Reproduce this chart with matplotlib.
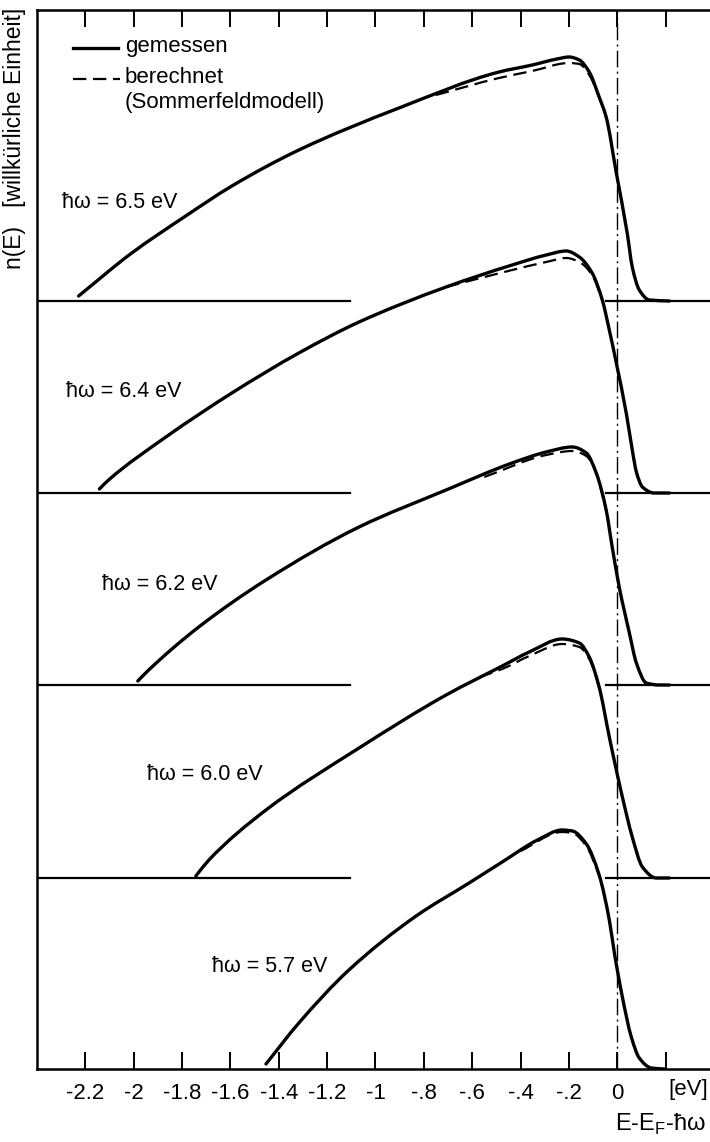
import numpy as np
import matplotlib
matplotlib.use("Agg")
import matplotlib.pyplot as plt
from matplotlib.path import Path
from matplotlib.patches import PathPatch

plt.rcParams['font.family'] = ['Liberation Sans', 'DejaVu Sans']
plt.rcParams['mathtext.fontset'] = 'custom'
plt.rcParams['mathtext.rm'] = 'Liberation Sans'

# photon energies and baseline offsets (arbitrary units)
photon = ['6.5', '6.4', '6.2', '6.0', '5.7']
baseline = [7.68, 5.76, 3.84, 1.91, 0.0]

# measured curves: energy E-EF-hw [eV], n(E) above own baseline
e65 = [-2.228, -2.008, -1.785, -1.594, -1.317, -0.903, -0.489, -0.352, -0.25, -0.199, -0.157, -0.116, -0.075, -0.046, -0.004, 0.041, 0.062, 0.091, 0.133, 0.215]
n65 = [0.05, 0.48, 0.85, 1.15, 1.51, 1.93, 2.29, 2.36, 2.42, 2.44, 2.41, 2.29, 2.04, 1.84, 1.28, 0.68, 0.34, 0.11, 0.01, 0.0]
e64 = [-2.142, -2.104, -1.867, -1.594, -1.317, -1.068, -0.708, -0.435, -0.294, -0.211, -0.157, -0.104, -0.062, -0.033, -0.004, 0.037, 0.062, 0.079, 0.104, 0.153, 0.215]
n64 = [0.04, 0.13, 0.56, 1.00, 1.40, 1.71, 2.06, 2.28, 2.38, 2.42, 2.36, 2.20, 1.93, 1.63, 1.30, 0.80, 0.43, 0.21, 0.06, 0.0, 0.0]
e62 = [-1.983, -1.938, -1.731, -1.453, -1.068, -0.708, -0.435, -0.294, -0.186, -0.128, -0.087, -0.046, -0.021, 0.008, 0.050, 0.079, 0.120, 0.174, 0.215]
n62 = [0.04, 0.15, 0.58, 1.05, 1.58, 1.95, 2.22, 2.33, 2.38, 2.32, 2.12, 1.75, 1.38, 0.98, 0.52, 0.22, 0.02, 0.0, 0.0]
e60 = [-1.743, -1.689, -1.453, -1.068, -0.708, -0.476, -0.364, -0.228, -0.157, -0.116, -0.075, -0.033, -0.004, 0.021, 0.062, 0.104, 0.161, 0.215]
n60 = [0.02, 0.18, 0.68, 1.30, 1.83, 2.12, 2.26, 2.39, 2.35, 2.21, 1.91, 1.41, 1.08, 0.81, 0.41, 0.11, 0.0, 0.0]
e57 = [-1.453, -1.317, -1.110, -0.832, -0.613, -0.476, -0.330, -0.228, -0.186, -0.128, -0.075, -0.033, -0.012, 0.021, 0.058, 0.091, 0.141, 0.195]
n57 = [0.05, 0.46, 0.99, 1.53, 1.86, 2.07, 2.29, 2.39, 2.38, 2.25, 1.94, 1.49, 1.16, 0.72, 0.32, 0.11, 0.01, 0.0]

# calculated (Sommerfeld model), only where it departs from the measurement
c65_e = [-0.75, -0.489, -0.352, -0.199, -0.157, -0.116, -0.075, -0.046]
c65_n = [2.06, 2.23, 2.30, 2.38, 2.37, 2.26, 2.04, 1.84]
c64_e = [-0.708, -0.435, -0.294, -0.211, -0.157, -0.104, -0.062]
c64_n = [2.06, 2.23, 2.31, 2.35, 2.31, 2.18, 1.93]
c62_e = [-0.55, -0.294, -0.186, -0.128, -0.087, -0.046]
c62_n = [2.08, 2.30, 2.34, 2.29, 2.12, 1.75]
c60_e = [-0.57, -0.476, -0.364, -0.228, -0.157, -0.116, -0.075]
c60_n = [2.01, 2.09, 2.22, 2.34, 2.31, 2.19, 1.91]
c57_e = [-0.40, -0.228, -0.186, -0.128, -0.075]
c57_n = [2.18, 2.37, 2.36, 2.23, 1.94]

meas = [(e65, n65), (e64, n64), (e62, n62), (e60, n60), (e57, n57)]
calc = [(c65_e, c65_n), (c64_e, c64_n), (c62_e, c62_n), (c60_e, c60_n), (c57_e, c57_n)]
label_x = [-2.298, -2.28, -2.13, -1.946, -1.677]
label_dy = [0.99, 1.02, 1.00, 1.04, 1.03]

minor = [-2.2, -1.8, -1.6, -1.4, -1.2, -0.8, -0.6, -0.4, -0.2, 0.2]
tick_pos = [-2.2, -2, -1.8, -1.6, -1.4, -1.2, -1, -0.8, -0.6, -0.4, -0.2, 0]
tick_lab = ['-2.2', '-2', '-1.8', '-1.6', '-1.4', '-1.2', '-1', '-.8', '-.6', '-.4', '-.2', '0']


def smooth_path(x, y):
    # monotone cubic (PCHIP) through the read points, drawn as Bezier segments
    x = np.asarray(x, float)
    y = np.asarray(y, float)
    h = np.diff(x)
    d = np.diff(y) / h
    m = np.zeros_like(y)
    m[0], m[-1] = d[0], d[-1]
    for i in range(1, len(x) - 1):
        if d[i - 1] * d[i] > 0:
            w1 = 2 * h[i] + h[i - 1]
            w2 = h[i] + 2 * h[i - 1]
            m[i] = (w1 + w2) / (w1 / d[i - 1] + w2 / d[i])
    verts = [(x[0], y[0])]
    codes = [Path.MOVETO]
    for i in range(len(x) - 1):
        verts += [(x[i] + h[i] / 3, y[i] + m[i] * h[i] / 3),
                  (x[i + 1] - h[i] / 3, y[i + 1] - m[i + 1] * h[i] / 3),
                  (x[i + 1], y[i + 1])]
        codes += [Path.CURVE4] * 3
    return Path(verts, codes)


fig = plt.figure(figsize=(7.10, 11.42), dpi=100)
ax = fig.add_axes([37/710, 73/1142, 677/710, 1059/1142])
ax.set_xlim(-2.4, 0.4)
ax.set_ylim(0, 10.59)

for i, b in enumerate(baseline):
    e, n = meas[i]
    ax.add_patch(PathPatch(smooth_path(e, np.array(n) + b), fill=False,
                           edgecolor='black', lw=2.4, joinstyle='round', capstyle='round'))
    ce, cn = calc[i]
    ax.add_patch(PathPatch(smooth_path(ce, np.array(cn) + b), fill=False,
                           edgecolor='black', lw=1.6, linestyle=(0, (6, 3))))
    if b > 0:
        ax.plot([-2.4, -1.105], [b, b], color='black', lw=1.6)
        ax.plot([-0.045, 0.4], [b, b], color='black', lw=1.6)
    ax.text(label_x[i], label_dy[i] + b, '\u0127\u03c9 = ' + photon[i] + ' eV',
            fontsize=15.5, va='center', ha='left')

ax.axvline(0, color='black', lw=1.0, dashes=(12, 3, 1.5, 3))

ax.set_xticks(tick_pos + [0.2])
ax.set_xticklabels(tick_lab + [''])
ax.set_xticks(minor, minor=True)
ax.tick_params(axis='x', which='both', direction='in', top=True, bottom=True,
               labelsize=16, pad=10, width=1.4)
ax.tick_params(axis='x', which='major', length=12)
ax.tick_params(axis='x', which='minor', length=8)
ax.set_yticks([])
for s in ax.spines.values():
    s.set_linewidth(1.8)

# legend, drawn by hand so the note sits under "berechnet"
ax.plot([0.0532, 0.1196], [0.9641, 0.9641], transform=ax.transAxes, color='black', lw=2.4)
ax.plot([0.0532, 0.1226], [0.9348, 0.9348], transform=ax.transAxes, color='black', lw=1.6,
        dashes=(6, 3))
ax.text(0.130, 0.9651, 'gemessen', transform=ax.transAxes, fontsize=16, va='center')
ax.text(0.130, 0.9358, 'berechnet', transform=ax.transAxes, fontsize=16, va='center')
ax.text(0.130, 0.9122, '(Sommerfeldmodell)', transform=ax.transAxes, fontsize=16, va='center')

fig.text(708/710, 1 - 1090/1142, '[eV]', fontsize=16, ha='right', va='center')
fig.text(706/710, 1 - 1124/1142, r'E-E$_\mathrm{F}$-ħω', fontsize=17, ha='right', va='center')

fig.text(15/710, 1 - 8/1142, 'n(E)   [willkürliche Einheit]', rotation=90,
         fontsize=16.5, ha='center', va='top')

fig.savefig('out.png', dpi=100)
